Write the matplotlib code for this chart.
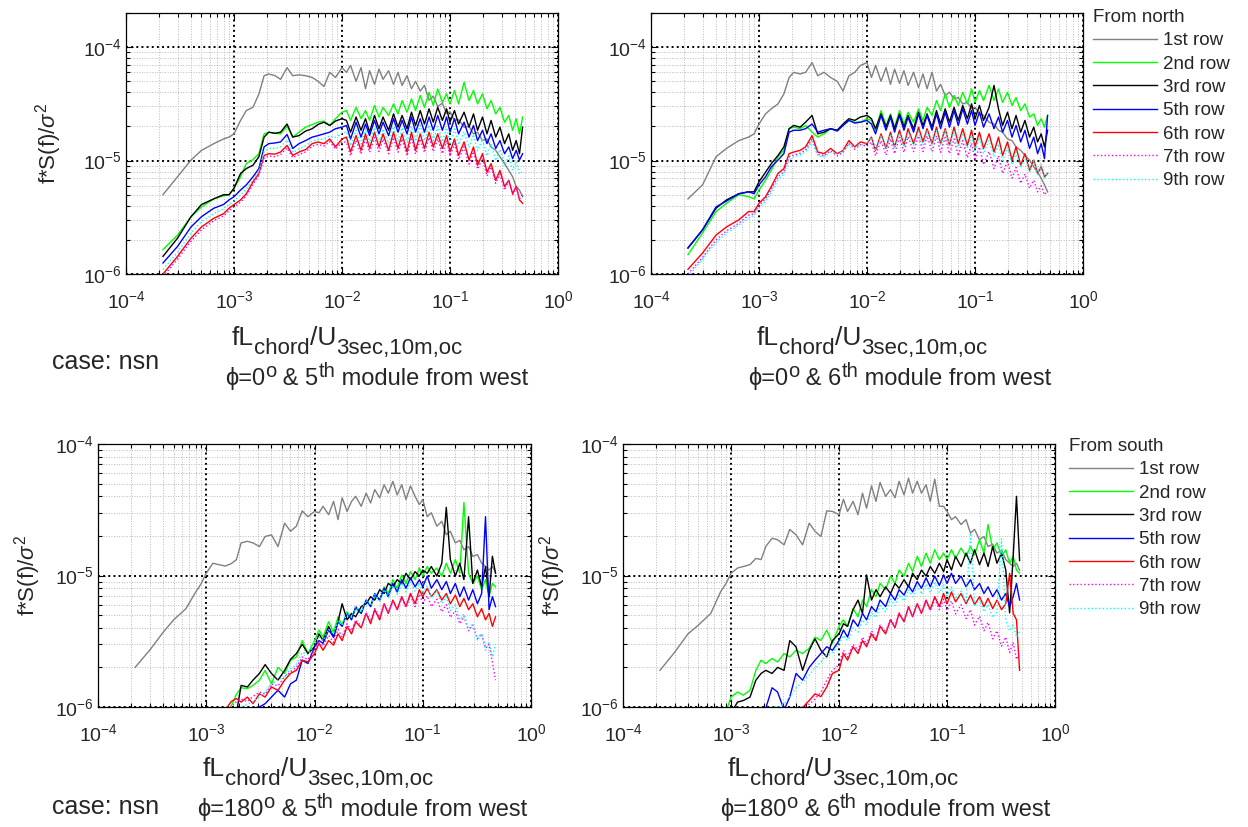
import matplotlib
matplotlib.use("Agg")
import matplotlib.pyplot as plt
import numpy as np
from matplotlib.ticker import LogLocator, NullFormatter

plt.rcParams["font.family"] = ["Liberation Sans", "DejaVu Sans"]
plt.rcParams["mathtext.fontset"] = "custom"
plt.rcParams["mathtext.rm"] = "Liberation Sans"
plt.rcParams["mathtext.it"] = "Liberation Sans:italic"
plt.rcParams["mathtext.bf"] = "Liberation Sans:bold"
plt.rcParams["text.color"] = "#262626"

W, H = 1248, 827
SCALE = 1e-6  # all spectra below are given in units of 1e-6

# normalised frequency fL_chord / U
freq = [2.2e-4, 3e-4, 4e-4, 5e-4, 6.5e-4, 8e-4, 9e-4, 1e-3, 1.15e-3, 1.3e-3,
        1.5e-3, 1.7e-3, 1.9e-3, 2.1e-3, 2.4e-3, 2.7e-3, 3.1e-3, 3.5e-3, 4e-3, 4.6e-3,
        5.3e-3, 6e-3, 6.8e-3, 7.7e-3, 8.7e-3, 1e-2,
        0.011, 0.012, 0.0135, 0.015, 0.0165, 0.018, 0.02, 0.022, 0.024, 0.027,
        0.03, 0.033, 0.036, 0.04, 0.044, 0.048, 0.053, 0.058, 0.064, 0.07,
        0.077, 0.085, 0.093, 0.1, 0.11, 0.12, 0.135, 0.15, 0.165, 0.18,
        0.2, 0.22, 0.24, 0.265, 0.29, 0.32, 0.35, 0.38, 0.41, 0.44, 0.47]

row_labels = ["1st row", "2nd row", "3rd row", "5th row", "6th row", "7th row", "9th row"]

# phi = 0, 5th module (from north)
n5_row1 = [5.0, 7.2, 10.1, 12.3, 14.1, 15.5, 16.1, 17.2, 22.6, 27.6,
           29.5, 38.6, 56, 58, 56, 52, 66, 56, 57, 56,
           54, 50, 45, 60, 54, 66,
           60, 69, 50, 66, 43, 62, 47, 64, 52, 62,
           47, 60, 46, 56, 43, 50, 41, 46, 34, 37,
           30, 32, 26, 27, 22.6, 23, 19.7, 20, 17.2, 17.8,
           15, 15.5, 13.2, 12.3, 10.8, 9.4, 8.2, 7.2, 5.9, 5.5, 4.8]
n5_row2 = [1.64, 2.2, 3.2, 3.9, 4.6, 4.9, 5.0, 5.7, 7.2, 9.4,
           10.2, 11.5, 17.2, 17.8, 17.4, 17.2, 20, 16.1, 17.8, 19.7,
           20.8, 21.8, 22.3, 20.4, 23.4, 26.7,
           27.6, 22.6, 29.5, 23.4, 27.6, 22.6, 30.6, 24.2, 29.5, 25,
           31.6, 25.8, 33.8, 26.7, 35, 27.6, 37.5, 29.5, 40, 30.6,
           42.8, 32.6, 38.7, 31.6, 41.5, 31.6, 49, 33.8, 41.5, 31.6,
           38.7, 28.6, 33.8, 25.8, 29.5, 21.8, 25, 18.5, 23.4, 17.2, 24.2]
n5_row3 = [1.43, 2.07, 3.2, 4.1, 4.6, 5.0, 5.0, 5.7, 7.7, 8.5,
           9.1, 10.8, 16.1, 17.8, 17.4, 17.8, 21, 16.1, 16.6, 18.2,
           19.1, 20.8, 21.8, 20.4, 22.3, 23.4,
           22.6, 17.8, 24.2, 18.5, 23.4, 17.8, 25, 19.1, 24.2, 18.5,
           25.8, 19.7, 25, 19.1, 26.7, 20.4, 27.6, 21, 28.6, 21.8,
           29.5, 22.6, 28.6, 21.8, 27.6, 21, 26.7, 19.7, 25.8, 18.5,
           24.2, 17.2, 22.6, 16.1, 19.7, 14.1, 17.2, 12.3, 15, 11.5, 19.7]
n5_row5 = [1.25, 1.75, 2.6, 3.2, 3.8, 4.1, 4.5, 4.8, 5.5, 6.1,
           7.2, 8.5, 13.2, 14.1, 14.3, 14.6, 17, 12.8, 14.1, 15,
           16.1, 16.6, 17.2, 17.8, 19.1, 19.7,
           20.4, 15.5, 21.8, 16.1, 21, 16.6, 22.6, 17.2, 21.8, 16.6,
           23.4, 17.8, 22.6, 17.2, 24.2, 17.8, 23.4, 17.8, 24.2, 18.5,
           25, 18.5, 24.2, 17.8, 23.4, 17.2, 21.8, 16.1, 20.4, 15,
           18.5, 14.1, 17.2, 12.8, 15, 11.5, 13.2, 10.4, 12.3, 10.1, 11.5]
n5_row6 = [1.0, 1.43, 2.07, 2.6, 3.1, 3.4, 3.8, 4.1, 4.5, 5.1,
           6.5, 7.7, 11.1, 11.5, 11.4, 11.9, 13.6, 11.1, 11.9, 12.5,
           14.1, 14.6, 14.1, 15.5, 13.2, 15.5,
           16.1, 11.9, 16.6, 12.3, 17.2, 12.8, 17.8, 13.2, 17.2, 12.3,
           17.8, 12.8, 17.2, 11.9, 17.8, 12.3, 17.2, 12.8, 17.8, 13.2,
           17.2, 12.8, 16.6, 11.9, 15.5, 11.1, 14.6, 10.1, 13.2, 9.1,
           11.5, 7.9, 9.4, 6.7, 8.2, 5.9, 6.7, 5.1, 5.9, 4.5, 4.2]
n5_row7 = [0.95, 1.35, 1.95, 2.45, 2.95, 3.25, 3.6, 3.9, 4.3, 4.9,
           6.2, 7.4, 10.5, 11.0, 10.8, 11.3, 12.9, 10.6, 11.3, 11.9,
           13.4, 13.9, 13.4, 14.7, 12.6, 14.7,
           14.5, 11.0, 15.0, 11.4, 15.5, 11.8, 16.0, 12.0, 15.5, 11.5,
           16.0, 11.8, 15.5, 11.0, 16.0, 11.4, 15.5, 11.8, 16.0, 12.0,
           15.5, 11.5, 15.0, 11.0, 14.0, 10.2, 13.2, 9.3, 12.0, 8.4,
           10.5, 7.3, 8.8, 6.3, 7.6, 5.5, 6.6, 5.0, 5.9, 4.6, 5.0]
n5_row9 = [1.1, 1.55, 2.3, 2.9, 3.4, 3.75, 4.1, 4.4, 5.0, 5.6,
           6.8, 8.0, 12.0, 12.8, 12.8, 13.2, 15.2, 11.8, 12.7, 13.5,
           14.9, 15.4, 15.4, 16.5, 16.0, 17.4,
           18.0, 13.5, 18.5, 14.0, 19.0, 14.2, 19.5, 14.5, 19.0, 14.2,
           20.0, 14.8, 19.5, 14.5, 20.0, 14.8, 20.5, 15.0, 20.5, 15.0,
           20.0, 14.6, 19.5, 14.2, 19.0, 13.8, 18.0, 13.0, 17.0, 12.2,
           15.5, 11.0, 14.0, 10.0, 12.5, 9.0, 11.0, 8.2, 9.8, 7.6, 8.0]

# phi = 0, 6th module (from north)
n6_row1 = [4.6, 6.1, 10.8, 12.8, 15, 16.1, 17.2, 21, 25.8, 28.6,
           31.6, 38.7, 54, 60, 58, 60, 73, 56, 60, 54,
           50, 41, 56, 60, 69, 73,
           54, 69, 50, 66, 47, 64, 48, 62, 46, 60,
           44, 58, 43, 60, 41, 47, 37.5, 40, 35, 36,
           31.6, 32.6, 28.6, 29.5, 26, 25, 21.8, 21, 18.5, 17.8,
           15.5, 15, 13.2, 12.3, 11.1, 10.1, 8.8, 7.9, 7.0, 6.1, 5.3]
n6_row2 = [1.48, 2.3, 3.55, 4.2, 5.0, 4.8, 4.6, 5.5, 6.7, 8.2,
           10.8, 12.3, 19.1, 19.7, 19.1, 20.4, 17.8, 16.1, 17.2, 19.1,
           18.5, 20.4, 22.6, 21.8, 21.8, 23.4,
           22.6, 18.5, 27.6, 20.4, 25.8, 19.7, 27.6, 21, 26.7, 21.8,
           28.6, 22.6, 29.5, 25, 33.8, 27.6, 38.7, 29.5, 37.5, 30.6,
           40, 31.6, 42.8, 32.6, 41.5, 33.8, 46, 33.8, 42.8, 32.6,
           40, 30.6, 36, 27.6, 31.6, 24.2, 25.8, 20.4, 23.4, 19.7, 25]
n6_row3 = [1.7, 2.45, 3.8, 4.5, 5.1, 5.3, 5.3, 6.5, 7.9, 9.4,
           11.1, 13.2, 19.1, 20.4, 19.7, 21.8, 25, 17.2, 17.8, 19.1,
           18.5, 21, 23.4, 22.6, 24.2, 25,
           23.4, 19.1, 25.8, 19.7, 25, 19.1, 25.8, 19.7, 25, 19.1,
           26.7, 20.4, 25.8, 19.7, 27.6, 21, 28.6, 21.8, 29.5, 22.6,
           30.6, 23.4, 31.6, 23.4, 30.6, 22.6, 29.5, 46, 28.6, 20.4,
           26.7, 19.1, 25, 17.8, 22.6, 16.1, 19.7, 14.6, 17.2, 13.2, 18.5]
n6_row5 = [1.69, 2.45, 3.9, 4.4, 5.1, 5.3, 5.1, 6.1, 7.2, 8.8,
           10.1, 11.5, 17.8, 18.5, 18.5, 19.1, 21, 17.8, 18.5, 19.1,
           18.2, 20.4, 22.6, 21.4, 21.8, 22.6,
           21, 17.2, 25, 18.5, 24.2, 17.8, 25, 18.5, 24.2, 17.8,
           25.8, 19.1, 25, 18.5, 25.8, 19.1, 26.7, 19.7, 27.6, 20.4,
           28.6, 21, 27.6, 20.4, 26.7, 19.7, 25.8, 19.1, 24.2, 17.8,
           22.6, 16.1, 20.4, 14.6, 18.5, 12.8, 16.1, 11.5, 14.1, 10.4, 25]
n6_row6 = [1.1, 1.53, 2.2, 2.6, 3.0, 3.55, 3.55, 4.2, 4.8, 5.9,
           7.7, 8.5, 11.5, 11.9, 12.3, 13.2, 16.6, 11.9, 11.5, 12.8,
           11.5, 12.3, 15, 13.2, 14.6, 14.1,
           16.1, 12.3, 17.2, 12.8, 17.8, 13.2, 18.5, 13.6, 19.1, 14.1,
           19.7, 14.6, 19.1, 14.1, 19.7, 14.1, 19.1, 13.6, 19.7, 14.1,
           19.1, 13.6, 18.5, 13.2, 17.8, 12.8, 17.2, 11.9, 16.1, 11.1,
           14.6, 10.1, 13.2, 9.1, 11.5, 8.2, 10.1, 7.7, 8.8, 7.2, 7.7]
n6_row7 = [1.0, 1.4, 2.0, 2.4, 2.8, 3.3, 3.4, 4.0, 4.6, 5.6,
           7.2, 8.0, 10.8, 11.2, 11.6, 12.4, 15.5, 11.4, 11.0, 12.2,
           11.0, 11.8, 14.2, 12.6, 13.8, 13.4,
           14.5, 11.0, 15.0, 11.2, 15.5, 11.5, 16.0, 11.8, 16.2, 12.0,
           16.5, 12.0, 16.5, 12.0, 16.5, 11.8, 16.0, 11.5, 15.5, 11.0,
           15.0, 10.6, 14.2, 10.0, 13.2, 9.2, 12.0, 8.5, 11.0, 7.7,
           9.8, 7.0, 8.7, 6.3, 7.6, 5.7, 6.7, 5.3, 6.0, 5.0, 5.4]
n6_row9 = [0.95, 1.35, 1.9, 2.3, 2.7, 3.1, 3.3, 3.8, 4.4, 5.3,
           6.8, 7.6, 10.2, 10.8, 11.2, 11.9, 14.8, 11.0, 10.8, 11.8,
           11.4, 12.2, 13.8, 13.0, 13.8, 14.0,
           16.0, 12.5, 16.5, 12.8, 17.0, 13.0, 17.5, 13.2, 17.8, 13.5,
           18.0, 13.6, 18.2, 13.8, 18.4, 13.8, 18.4, 13.6, 18.0, 13.2,
           17.5, 12.8, 16.8, 12.2, 16.0, 11.5, 15.0, 10.8, 14.0, 10.0,
           13.0, 9.2, 11.8, 8.6, 10.8, 8.0, 10.0, 7.5, 9.2, 7.0, 8.0]

# phi = 180, 5th module (from south)
s5_row1 = [2.0, 2.7, 3.7, 4.6, 5.6, 7.5, 8.7, 10.4, 12.4, 12.1,
           11.8, 12.3, 13.2, 17.7, 18.2, 17.7, 16.6, 19.8, 20.4, 16.6,
           25, 21.7, 23.7, 31, 28, 30.7,
           30, 33.6, 29, 36.6, 26.6, 39, 30.7, 36.6, 40, 33.6,
           42.3, 35.6, 45, 39, 49, 42.3, 52, 41, 49, 37.8,
           48, 40, 34.6, 37.8, 28, 30, 23.7, 25.8, 20.4, 21.7,
           17.7, 18.5, 15.7, 16.6, 14, 14.4, 12.4, 11.7, 11, 11.7, 10.6]
s5_row2 = [0.12, 0.17, 0.22, 0.28, 0.36, 0.45, 0.5, 0.56, 0.65, 0.75,
           0.88, 1.02, 1.25, 1.4, 1.38, 1.46, 1.6, 1.9, 1.5, 2.0,
           1.8, 2.27, 2.4, 3.2, 2.55, 3.2,
           3.85, 3.4, 4.45, 3.7, 4.85, 4.2, 5.3, 4.7, 5.6, 5.15,
           6.5, 5.8, 7.1, 6.5, 8.2, 7.3, 9.3, 8.0, 10.1, 8.7,
           10.7, 9.3, 11.4, 9.9, 11.7, 10.4, 11.4, 9.9, 12.4, 10.4,
           13.2, 10.4, 36, 10.4, 8.7, 9.9, 7.8, 9.3, 6.9, 8.7, 8.2]
s5_row3 = [0.1, 0.14, 0.19, 0.24, 0.31, 0.4, 0.45, 0.5, 0.6, 0.65,
           0.7, 0.8, 0.9, 1.46, 1.42, 1.6, 1.8, 2.1, 1.8, 1.6,
           1.9, 2.3, 2.55, 3.0, 2.55, 2.87,
           3.6, 3.2, 4.1, 3.4, 4.45, 6.1, 4.6, 5.15, 4.85, 5.8,
           6.1, 6.9, 6.5, 7.8, 7.3, 8.7, 8.2, 9.3, 8.7, 10.4,
           9.3, 10.7, 9.9, 11, 10.4, 11.7, 9.9, 12.4, 33, 13.2,
           9.9, 12.4, 9.3, 28, 8.7, 11, 8.2, 11.7, 6.9, 14, 10.4]
s5_row5 = [0.07, 0.1, 0.13, 0.17, 0.22, 0.28, 0.32, 0.36, 0.42, 0.5,
           0.6, 0.7, 0.8, 0.88, 0.95, 0.98, 1.0, 1.06, 1.19, 1.34,
           1.19, 1.5, 1.6, 2.27, 2.14, 2.87,
           3.2, 3.05, 3.85, 3.4, 4.45, 4.1, 5.15, 4.6, 5.8, 5.15,
           6.5, 5.8, 7.3, 6.5, 8.0, 6.9, 8.7, 7.5, 9.3, 8.0,
           9.6, 8.2, 9.3, 8.2, 9.9, 8.0, 9.3, 7.8, 9.0, 7.3,
           8.7, 6.9, 8.2, 6.5, 7.8, 6.1, 7.3, 28, 5.5, 6.9, 5.8]
s5_row6 = [0.08, 0.12, 0.16, 0.2, 0.27, 0.35, 0.42, 0.5, 0.62, 0.78,
           0.95, 1.1, 1.16, 1.09, 1.19, 1.06, 1.26, 1.19, 1.42, 1.34,
           1.6, 1.8, 1.9, 2.27, 2.2, 2.55,
           3.05, 2.7, 3.2, 2.95, 3.6, 3.2, 4.1, 3.6, 4.45, 4.0,
           5.15, 4.3, 5.5, 4.6, 6.1, 5.15, 6.5, 5.5, 6.9, 5.8,
           7.3, 6.1, 7.8, 6.9, 8.0, 6.9, 7.8, 6.5, 7.3, 6.1,
           7.1, 5.8, 6.7, 5.5, 6.1, 4.85, 5.6, 4.6, 5.15, 4.1, 4.85]
s5_row7 = [0.09, 0.13, 0.17, 0.22, 0.29, 0.37, 0.44, 0.52, 0.64, 0.8,
           0.92, 1.0, 1.1, 1.15, 1.1, 1.2, 1.3, 1.25, 1.5, 1.45,
           1.7, 1.85, 2.0, 2.4, 2.3, 2.7,
           3.2, 2.9, 3.5, 3.1, 3.9, 3.4, 4.3, 3.8, 4.6, 4.1,
           5.2, 4.5, 5.6, 4.8, 6.1, 5.2, 6.4, 5.5, 6.7, 5.7,
           7.0, 5.8, 7.2, 6.2, 7.0, 5.8, 6.6, 5.3, 6.0, 4.8,
           5.4, 4.3, 4.9, 3.8, 4.2, 3.3, 3.6, 2.8, 3.0, 2.2, 1.6]
s5_row9 = [0.08, 0.11, 0.15, 0.19, 0.25, 0.32, 0.37, 0.42, 0.5, 0.6,
           0.72, 0.85, 0.95, 1.0, 1.05, 1.1, 1.2, 1.3, 1.5, 1.6,
           1.7, 1.95, 2.1, 2.6, 2.5, 3.0,
           3.4, 3.2, 3.9, 3.6, 4.5, 4.2, 5.2, 4.8, 5.8, 5.3,
           6.5, 5.9, 7.2, 6.4, 7.8, 6.8, 8.4, 7.2, 8.8, 7.5,
           9.0, 7.6, 8.8, 7.3, 8.4, 6.8, 7.6, 6.1, 6.9, 5.4,
           6.0, 4.6, 5.1, 3.9, 4.3, 3.2, 3.6, 2.7, 3.1, 2.4, 3.0]

# phi = 180, 6th module (from south)
s6_row1 = [1.9, 2.6, 3.6, 4.2, 5.15, 7.5, 8.7, 10.4, 11.4, 11.7,
           12.1, 13.5, 13.2, 16.6, 19.2, 18.7, 17.1, 22.4, 20.4, 17.1,
           25, 21.7, 19.8, 31, 30.7, 29,
           38, 30.7, 36.6, 29, 42.3, 32.5, 48, 36.6, 51, 40,
           45, 39, 52, 41, 55, 42.3, 52, 42.3, 49, 36.6,
           54, 33.6, 33.6, 30.7, 26.6, 28, 24.4, 26.6, 21, 22.4,
           18.7, 19.8, 16.6, 17.3, 14.8, 15.6, 13.2, 12.4, 11.7, 12.4, 11]
s6_row2 = [0.3, 0.38, 0.48, 0.56, 0.68, 0.82, 0.92, 1.19, 1.3, 1.23,
           1.34, 1.9, 2.27, 2.14, 2.34, 2.2, 2.55, 2.4, 2.7, 2.55,
           2.8, 3.4, 3.2, 3.85, 3.05, 4.1,
           4.6, 4.1, 5.6, 4.85, 6.5, 5.8, 7.8, 6.9, 8.7, 7.8,
           9.9, 8.7, 11, 9.9, 12.4, 10.7, 14, 11.7, 14.8, 12.4,
           15.7, 13.2, 14.8, 13.2, 15.7, 13.5, 16.2, 14, 16.6, 14.4,
           18.7, 14.8, 24.4, 15.7, 17.7, 14, 15.7, 12.4, 14, 11, 10.4]
s6_row3 = [0.25, 0.32, 0.42, 0.5, 0.6, 0.72, 0.8, 0.9, 1.09, 1.12,
           1.19, 1.6, 1.8, 1.9, 1.8, 2.0, 1.9, 3.2, 2.87, 1.9,
           2.7, 3.3, 2.7, 2.4, 3.2, 3.6,
           4.3, 4.1, 5.5, 6.5, 5.15, 10.1, 6.5, 7.8, 6.9, 8.2,
           7.3, 8.7, 8.0, 9.3, 8.2, 10.4, 9.3, 11, 9.9, 11.7,
           10.4, 12.4, 10.7, 13.2, 11, 14, 11.7, 14.8, 12.4, 15.7,
           12.1, 14.8, 11.7, 16.6, 12.4, 14.8, 11, 5.2, 14, 40, 13]
s6_row5 = [0.15, 0.2, 0.26, 0.3, 0.36, 0.45, 0.55, 0.62, 0.7, 0.78,
           0.85, 0.9, 0.95, 0.98, 1.4, 1.3, 0.95, 1.19, 1.8, 1.6,
           2.0, 2.27, 2.55, 2.87, 2.7, 3.2,
           3.85, 3.4, 4.6, 4.1, 5.15, 4.6, 5.8, 5.3, 6.5, 5.8,
           7.3, 6.5, 7.8, 7.1, 8.4, 7.5, 9.0, 8.0, 9.6, 8.2,
           9.9, 8.4, 10.1, 8.7, 10.4, 8.7, 9.9, 8.2, 9.3, 7.8,
           8.7, 7.3, 8.2, 6.9, 7.8, 6.5, 7.3, 5.8, 6.9, 8.7, 6.5]
s6_row6 = [0.08, 0.1, 0.13, 0.16, 0.2, 0.24, 0.27, 0.3, 0.35, 0.4,
           0.46, 0.52, 0.58, 0.64, 0.7, 0.78, 0.86, 0.94, 0.98, 0.99,
           1.12, 1.26, 1.2, 1.42, 1.8, 1.9,
           2.55, 2.27, 2.87, 2.55, 3.2, 2.87, 3.6, 3.2, 4.1, 3.6,
           4.6, 4.0, 5.15, 4.45, 5.8, 4.85, 6.1, 5.15, 6.5, 5.5,
           6.9, 5.8, 7.3, 6.1, 7.5, 6.3, 7.3, 6.1, 7.1, 6.0,
           6.9, 5.8, 6.7, 5.6, 6.5, 5.5, 6.1, 10.4, 5.15, 4.6, 1.9]
s6_row7 = [0.06, 0.08, 0.1, 0.13, 0.16, 0.2, 0.23, 0.26, 0.3, 0.35,
           0.4, 0.46, 0.52, 0.58, 0.65, 0.72, 0.8, 0.88, 0.95, 1.0,
           1.05, 1.15, 1.3, 1.6, 1.9, 2.1,
           2.7, 2.4, 3.0, 2.7, 3.4, 3.0, 3.8, 3.3, 4.2, 3.7,
           4.7, 4.1, 5.2, 4.5, 5.7, 4.9, 6.1, 5.2, 6.4, 5.4,
           6.6, 5.5, 6.6, 5.4, 6.4, 5.1, 6.0, 4.7, 5.5, 4.2,
           4.9, 3.8, 4.4, 3.3, 3.8, 2.9, 3.4, 2.6, 3.1, 2.3, 2.6]
s6_row9 = [0.1, 0.13, 0.17, 0.22, 0.28, 0.35, 0.4, 0.46, 0.54, 0.62,
           0.7, 0.8, 0.88, 0.95, 1.0, 1.0, 1.05, 1.2, 1.4, 1.55,
           1.75, 2.0, 2.2, 2.5, 2.6, 3.0,
           3.5, 3.2, 4.0, 3.7, 4.6, 4.2, 5.2, 4.8, 5.9, 5.3,
           6.6, 5.9, 7.2, 6.4, 7.8, 6.9, 8.3, 7.2, 8.6, 7.4,
           8.8, 7.4, 8.6, 7.0, 8.2, 6.6, 7.6, 6.2, 21, 5.8,
           6.6, 5.3, 6.0, 4.8, 5.3, 19, 4.6, 3.8, 4.2, 3.4, 3.8]

line_colors = ["#808080", "#00ff00", "#000000", "#0000ff", "#ff0000", "#ff00ff", "#00ffff"]
line_styles = ["-", "-", "-", "-", "-", ":", ":"]

TXT = "#262626"


def px_rect(left, top, right, bottom):
    return [left / W, 1 - bottom / H, (right - left) / W, (bottom - top) / H]


def setup_axes(ax, ymax):
    ax.set_xscale("log")
    ax.set_yscale("log")
    ax.set_xlim(1e-4, 1)
    ax.set_ylim(1e-6, ymax)
    ax.xaxis.set_major_locator(LogLocator(base=10, numticks=10))
    ax.yaxis.set_major_locator(LogLocator(base=10, numticks=10))
    ax.xaxis.set_minor_locator(LogLocator(base=10, subs=np.arange(2, 10), numticks=100))
    ax.yaxis.set_minor_locator(LogLocator(base=10, subs=np.arange(2, 10), numticks=100))
    ax.xaxis.set_minor_formatter(NullFormatter())
    ax.yaxis.set_minor_formatter(NullFormatter())
    ax.set_axisbelow(True)
    ax.grid(True, which="minor", color="#b8b8b8", linestyle=":", linewidth=0.7)
    ax.grid(True, which="major", color="#000000", linestyle=":", linewidth=1.4)
    ax.tick_params(which="both", direction="in", top=True, right=True,
                   labelsize=14, labelcolor=TXT, width=0.8)
    ax.tick_params(which="major", length=5)
    ax.tick_params(which="minor", length=3)
    ax.tick_params(axis="x", pad=12)
    ax.tick_params(axis="y", pad=3)
    for sp in ax.spines.values():
        sp.set_linewidth(0.9)


def chain_text(ax, x, y, pieces):
    # pieces: (text, fontsize, vertical shift in points)
    txt, size, shift = pieces[0]
    t = ax.figure.text(x / W, 1 - y / H, txt, fontsize=size, ha="left", va="baseline")
    prev = shift
    for txt, size, shift in pieces[1:]:
        t = ax.annotate(txt, xy=(1, 0), xycoords=t, xytext=(0, shift - prev),
                        textcoords="offset points", fontsize=size, ha="left", va="bottom")
        prev = shift


def xlabel_block(ax, x1, y1, x2, y2, phi, module):
    chain_text(ax, x1, y1, [("fL", 19, 0), ("chord", 16, -6.5), ("/U", 19, 0),
                            ("3sec,10m,oc", 16, -6.5)])
    chain_text(ax, x2, y2, [("\u03d5=" + phi, 17, 0), ("o", 14.5, 6.5),
                            (" & " + module, 17, 0), ("th", 14.5, 6.5),
                            (" module from west", 17, 0)])


fig = plt.figure(figsize=(W / 100, H / 100), dpi=100)

panels = [
    (px_rect(126, 13, 558, 274), 2e-4, [n5_row1, n5_row2, n5_row3, n5_row5, n5_row6, n5_row7, n5_row9],
     (232, 345, 225, 385), "0", "5"),
    (px_rect(651, 13, 1083, 274), 2e-4, [n6_row1, n6_row2, n6_row3, n6_row5, n6_row6, n6_row7, n6_row9],
     (757, 345, 748, 385), "0", "6"),
    (px_rect(98, 444, 531, 707), 1e-4, [s5_row1, s5_row2, s5_row3, s5_row5, s5_row6, s5_row7, s5_row9],
     (203, 776, 197, 816), "180", "5"),
    (px_rect(623, 444, 1055, 707), 1e-4, [s6_row1, s6_row2, s6_row3, s6_row5, s6_row6, s6_row7, s6_row9],
     (728, 776, 720, 816), "180", "6"),
]

axes = []
for rect, ymax, series, (x1, y1, x2, y2), phi, module in panels:
    ax = fig.add_axes(rect)
    setup_axes(ax, ymax)
    for vals, color, ls, label in zip(series, line_colors, line_styles, row_labels):
        ax.plot(freq, np.array(vals) * SCALE, color=color, linestyle=ls, linewidth=1.0, label=label)
    xlabel_block(ax, x1, y1, x2, y2, phi, module)
    axes.append(ax)

ylabel = "f*S(f)/$\\sigma^{2}$"
fig.text(49 / W, 1 - 143 / H, ylabel, rotation=90, fontsize=16, ha="center", va="center")
fig.text(28 / W, 1 - 575 / H, ylabel, rotation=90, fontsize=16, ha="center", va="center")
fig.text(553 / W, 1 - 575 / H, ylabel, rotation=90, fontsize=16, ha="center", va="center")

fig.text(52 / W, 1 - 369 / H, "case: nsn", fontsize=18, ha="left", va="baseline")
fig.text(52 / W, 1 - 814 / H, "case: nsn", fontsize=18, ha="left", va="baseline")

for ax, title, (lx, ly) in [(axes[1], "From north", (1093, 9)), (axes[3], "From south", (1069, 438))]:
    handles, labels = ax.get_legend_handles_labels()
    fig.legend(handles, labels, title=title, loc="upper left", bbox_to_anchor=(lx / W, 1 - ly / H),
               frameon=False, fontsize=13.5, title_fontsize=13.5, handlelength=3.4,
               handletextpad=0.35, labelspacing=0.33, borderpad=0, borderaxespad=0,
               alignment="left")

fig.savefig("out.png", dpi=100)
